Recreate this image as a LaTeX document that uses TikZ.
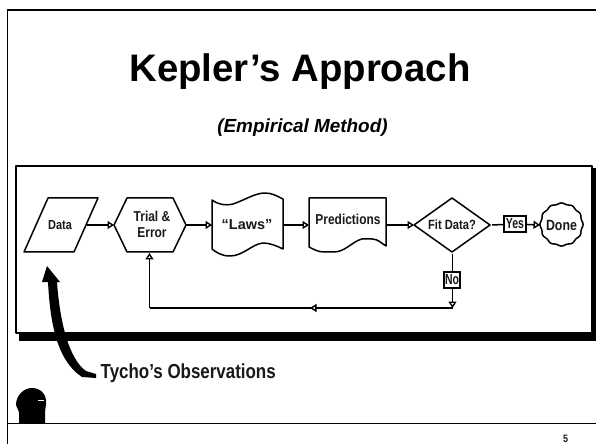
\documentclass[tikz,border=0pt]{standalone}
\usepackage{fontspec}
\setmainfont{Liberation Sans}
\usetikzlibrary{arrows.meta}
\newcommand\tallbox[1]{\scalebox{1}[1.2]{#1}}
\newcommand\tallerbox[1]{\scalebox{1}[1.4]{#1}}
\newcommand\fsz[1]{\fontsize{#1}{17}\selectfont\bfseries}
\tikzset{
  x=1bp,y=-1bp,
  shp/.style={draw=black,line width=1.5bp,fill=white,line join=round},
  lbl/.style={inner sep=0pt,text=black!90,align=center},
  conn/.style={draw=black,line width=1.5bp,-{Triangle[fill=white,length=6.5bp,width=8bp,line width=1.4bp]}},
  plain/.style={draw=black,line width=1.5bp},
  tag/.style={draw=black,line width=1.5bp,fill=white,inner sep=0pt,minimum height=16bp,text=black!90},
  rule/.style={draw=black,line width=1.6bp}
}
\begin{document}
\begin{tikzpicture}
\useasboundingbox (0,0) rectangle (596,444);
\fill[white] (0,0) rectangle (596,444);
% slide frame
\coordinate (fl1) at (7.5,10); \coordinate (fl2) at (7.5,444);
\coordinate (fr1) at (7.5,423.5); \coordinate (fr2) at (596,423.5);
\coordinate (ft2) at (596,10);
\draw[rule] (ft2) -- (fl1) -- (fl2);
\draw[rule] (fr1) -- (fr2);
\node[inner sep=0pt,anchor=base,font=\fontsize{38.5}{42}\selectfont\bfseries] (title) at (300,82) {Kepler’s Approach};
\node[inner sep=0pt,anchor=base,font=\fontsize{19}{22}\selectfont\bfseries\itshape] (sub) at (302.5,133) {(Empirical Method)};
% panel
\fill[black] (19,168) rectangle (596,341);
\draw[shp] (16,166) rectangle (592,333);
% shapes
\draw[shp] (48,198) -- (98,198) -- (74,252) -- (24,252) -- cycle;
\node[lbl,font=\fsz{11}] (data) at (60,225.5) {\tallbox{Data}};
\draw[shp] (114,225) -- (127,198) -- (173,198) -- (186,225) -- (173,252) -- (127,252) -- cycle;
\node[lbl,font=\fsz{12}] (trial) at (152,216) {\tallbox{Trial \&}};
\node[lbl,font=\fsz{12}] (error) at (152,233) {\tallbox{Error}};
\draw[shp] (212,200) .. controls (217,204) and (225,206) .. (233,204) .. controls (245,200) and (255,193) .. (265,193) .. controls (272,193) and (277,196) .. (283,199) -- (283,249) .. controls (277,246) and (270,243) .. (263,243) .. controls (252,244) and (243,256) .. (230,256) .. controls (222,256) and (217,253) .. (212,249) -- cycle;
\node[lbl,font=\fsz{14.5}] (laws) at (247,225) {“Laws”};
\draw[shp] (309,198) -- (386,198) -- (386,246) .. controls (381,243) and (378,239) .. (372,239) -- (362,239) .. controls (353,241) and (345,252) .. (334,252) -- (324,252) .. controls (318,252) and (313,249) .. (309,247) -- cycle;
\node[lbl,font=\fsz{12}] (pred) at (348,219) {\tallbox{Predictions}};
\draw[shp] (452,198) -- (490,225) -- (452,252) -- (414,225) -- cycle;
\node[lbl,font=\fsz{11.2}] (fit) at (452,225) {\tallbox{Fit Data?}};
\draw[shp] plot[smooth cycle,domain=0:355,samples=72] ({561.5+(21+0.6*cos(12*\x))*cos(\x)},{224.5+(21+0.6*cos(12*\x))*sin(\x)});
\node[lbl,font=\fsz{12.4}] (done) at (561.5,225) {\tallbox{Done}};
\node[tag,minimum width=22bp,font=\fsz{10.5}] (yes) at (515,224) {\tallerbox{Yes}};
\node[tag,minimum width=16bp,font=\fsz{10.5}] (no) at (452,280) {\tallerbox{No}};
\coordinate (j) at (452.5,308);
\coordinate (d0) at (87,225); \coordinate (t0) at (114,225);
\coordinate (t1) at (186,225); \coordinate (l0) at (212,225);
\coordinate (l1) at (283,225); \coordinate (p0) at (309,225);
\coordinate (p1) at (386,225); \coordinate (f0) at (414,225);
\coordinate (f1) at (492,225); \coordinate (d1) at (540,225);
\coordinate (f2) at (452.5,254); \coordinate (t2) at (149.5,253);
\coordinate (b) at (149.5,308); \coordinate (m) at (310,308);
\draw[plain] (j) -- (b);
\draw[conn] (d0) -- (t0);
\draw[conn] (t1) -- (l0);
\draw[conn] (l1) -- (p0);
\draw[conn] (p1) -- (f0);
\draw[plain] (f1) -- (yes);
\draw[conn] (yes) -- (d1);
\draw[plain] (f2) -- (f2 |- no.north);
\draw[conn] (j |- no.south) -- (j);
\draw[conn] (b) -- (t2);
\draw[conn] (j) -- (m);
% big arrow
\node[lbl,anchor=base west,font=\fsz{17}] (tycho) at (100.5,378) {\tallbox{Tycho’s Observations}};
\fill[black] (47,266) -- (60,282) -- (57,282) .. controls (60,325) and (70,360) .. (86,371) -- (96,374) -- (96,378) -- (82,377) .. controls (56,360) and (50,320) .. (48,282) -- (42,282) -- cycle;
% figure
\fill[black] (19,423) -- (19,412) -- (16,405) .. controls (16,395) and (24,388) .. (32,388) .. controls (42,388) and (47,396) .. (46,404) -- (45,412) -- (45,423) -- cycle;
\draw[white,line width=1bp] (38,400) -- (44,400);
\node[lbl,anchor=base,font=\fsz{9}] (page) at (565.5,442) {\tallbox{5}};
\end{tikzpicture}
\end{document}
